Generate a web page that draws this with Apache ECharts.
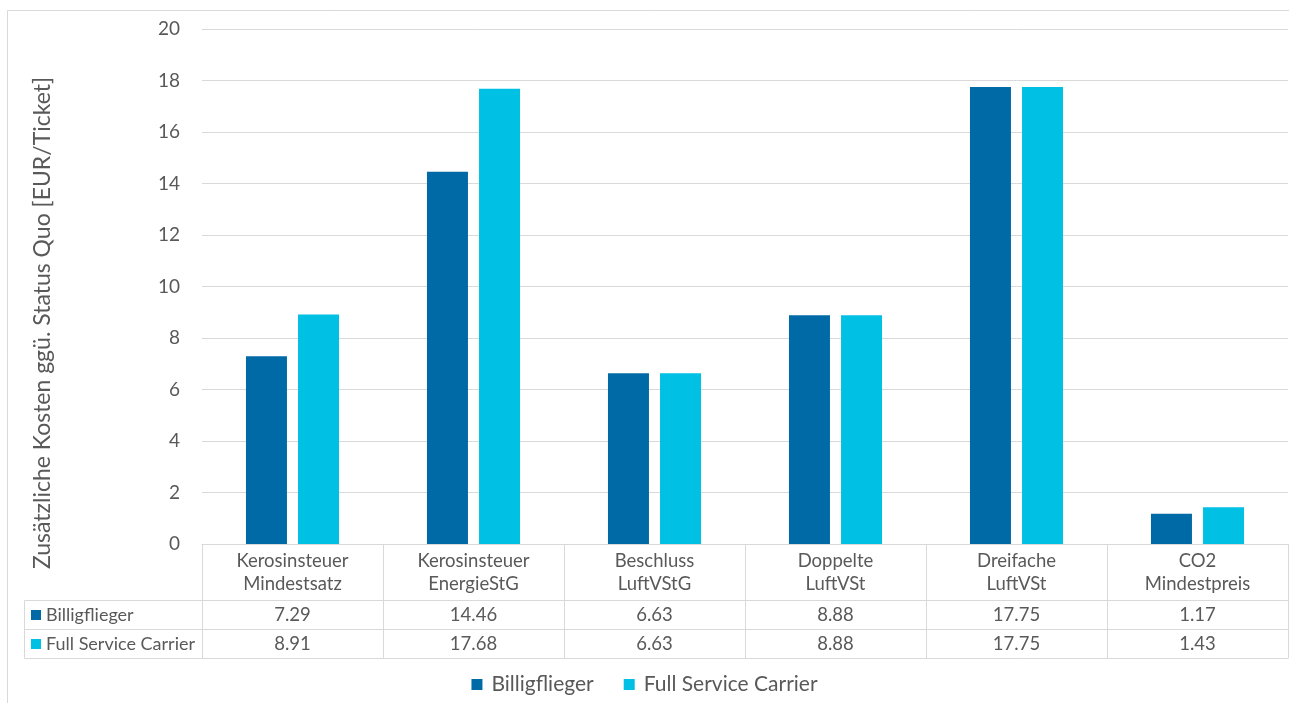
<!DOCTYPE html>
<html>
<head>
<meta charset="utf-8">
<script src="https://cdn.jsdelivr.net/npm/echarts@6/dist/echarts.min.js"></script>
<style>
  html, body { margin: 0; padding: 0; background: #ffffff; }
  #chart { width: 1289px; height: 703px; }
</style>
</head>
<body>
<div id="chart"></div>
<script>
// Kategorien (Maßnahmen) und Mehrkosten je Ticket
const categories = [
  'Kerosinsteuer\nMindestsatz',
  'Kerosinsteuer\nEnergieStG',
  'Beschluss\nLuftVStG',
  'Doppelte\nLuftVSt',
  'Dreifache\nLuftVSt',
  'CO2\nMindestpreis'
];
const billigflieger = [7.29, 14.46, 6.63, 8.88, 17.75, 1.17];
const fullService = [8.91, 17.68, 6.63, 8.88, 17.75, 1.43];
const seriesNames = ['Billigflieger', 'Full Service Carrier'];
const yTicks = { min: 0, max: 20, interval: 2 };

const COLORS = ['#006AA6', '#00C0E4'];
const TEXT = '#595959';
const LINE = '#d9d9d9';
const FONT = 'Lato, "Open Sans", sans-serif';

// Raster und Datentabelle unter der Achse
const GRID = { left: 202, right: 1, top: 29, bottom: 159 };
const HEADER_H = 56, ROW_H = 29;
const ROW_LABEL_LEFT = 24;

const chart = echarts.init(document.getElementById('chart'), null, { renderer: 'canvas' });

const fmt = v => v.toFixed(2);

function tableAxis(values, offset) {
  return {
    type: 'category',
    position: 'bottom',
    offset: offset,
    data: values ? values.map(fmt) : categories.map(() => ''),
    axisLine: { show: true, lineStyle: { color: LINE, width: 1 } },
    axisTick: { show: false },
    axisLabel: {
      show: !!values, interval: 0, margin: 4,
      color: TEXT, fontSize: 18.5, fontFamily: FONT, lineHeight: 22
    },
    splitLine: { show: false }
  };
}

const plotBottom = 703 - GRID.bottom;
const row1Top = plotBottom + HEADER_H;
const row2Top = row1Top + ROW_H;

const rowHeader = (i, y) => ([
  {
    type: 'rect',
    shape: { x: ROW_LABEL_LEFT + 0.5, y: y + 0.5, width: GRID.left - ROW_LABEL_LEFT, height: ROW_H },
    style: { fill: 'none', stroke: LINE, lineWidth: 1 }
  },
  {
    type: 'rect',
    shape: { x: 31, y: y + 10, width: 10, height: 10 },
    style: { fill: COLORS[i] }
  },
  {
    type: 'text',
    x: 46, y: y + ROW_H / 2 + 1,
    style: {
      text: seriesNames[i], fill: TEXT, font: '18px ' + FONT,
      textAlign: 'left', textVerticalAlign: 'middle'
    }
  }
]);

const option = {
  backgroundColor: '#ffffff',
  animation: false,
  color: COLORS,
  textStyle: { fontFamily: FONT },
  grid: GRID,
  legend: {
    data: seriesNames,
    bottom: 3,
    left: 'center',
    icon: 'rect',
    itemWidth: 11,
    itemHeight: 11,
    itemGap: 30,
    textStyle: { color: TEXT, fontSize: 21, fontFamily: FONT, padding: [0, 0, 0, 4] }
  },
  xAxis: [
    {
      type: 'category',
      position: 'bottom',
      data: categories,
      axisLine: { show: true, lineStyle: { color: LINE, width: 1 } },
      axisTick: { show: true, length: HEADER_H + 2 * ROW_H, lineStyle: { color: LINE } },
      axisLabel: {
        interval: 0, margin: 6, color: TEXT, fontSize: 18.5,
        fontFamily: FONT, lineHeight: 23
      },
      splitLine: { show: false }
    },
    tableAxis(billigflieger, HEADER_H),
    tableAxis(fullService, HEADER_H + ROW_H),
    tableAxis(null, HEADER_H + 2 * ROW_H)
  ],
  yAxis: {
    type: 'value',
    min: yTicks.min, max: yTicks.max, interval: yTicks.interval,
    axisLine: { show: false },
    axisTick: { show: false },
    axisLabel: { color: TEXT, fontSize: 19, fontFamily: FONT, margin: 22 },
    splitLine: { lineStyle: { color: LINE, width: 1 } }
  },
  series: [
    {
      name: seriesNames[0], type: 'bar', data: billigflieger,
      barWidth: 41, barGap: '27%', itemStyle: { color: COLORS[0] }
    },
    {
      name: seriesNames[1], type: 'bar', data: fullService,
      barWidth: 41, barGap: '27%', itemStyle: { color: COLORS[1] }
    }
  ],
  graphic: [
    {
      type: 'rect', z: -10, silent: true,
      shape: { x: 7.5, y: 10.5, width: 1400, height: 800 },
      style: { fill: 'none', stroke: LINE, lineWidth: 1 }
    },
    {
      type: 'text',
      x: 43, y: 323, rotation: Math.PI / 2,
      style: {
        text: 'Zusätzliche Kosten ggü. Status Quo [EUR/Ticket]',
        fill: TEXT, font: '23px ' + FONT,
        textAlign: 'center', textVerticalAlign: 'middle'
      }
    },
    ...rowHeader(0, row1Top),
    ...rowHeader(1, row2Top)
  ]
};

chart.setOption(option);
</script>
</body>
</html>
